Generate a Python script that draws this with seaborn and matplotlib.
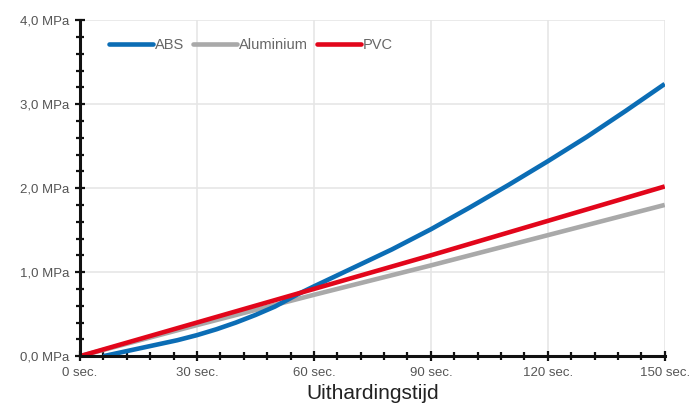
import pandas as pd
import matplotlib
matplotlib.use('Agg')
import matplotlib.pyplot as plt
import seaborn as sns
from matplotlib.ticker import MultipleLocator, FuncFormatter

# waarden (sec., MPa)
abs_tijd = [6, 10, 15, 20, 25, 30, 35, 40, 45, 50, 56, 60, 70, 80, 90, 100, 110, 120, 130, 140, 150]
abs_mpa = [0.0, 0.04, 0.09, 0.14, 0.19, 0.25, 0.32, 0.40, 0.49, 0.59, 0.74, 0.83, 1.05, 1.27, 1.51, 1.77, 2.04, 2.32, 2.61, 2.92, 3.24]

alu_tijd = [0, 30, 60, 90, 120, 150]
alu_mpa = [0.0, 0.37, 0.73, 1.08, 1.44, 1.80]

pvc_tijd = [0, 30, 60, 90, 120, 150]
pvc_mpa = [0.0, 0.40, 0.80, 1.20, 1.61, 2.02]

series = ['ABS', 'Aluminium', 'PVC']
kleuren = ['#0b6db5', '#a9a9a9', '#e2061b']

df = pd.concat([
    pd.DataFrame({'tijd': abs_tijd, 'mpa': abs_mpa, 'materiaal': 'ABS'}),
    pd.DataFrame({'tijd': alu_tijd, 'mpa': alu_mpa, 'materiaal': 'Aluminium'}),
    pd.DataFrame({'tijd': pvc_tijd, 'mpa': pvc_mpa, 'materiaal': 'PVC'}),
])

sns.set_style('white')
plt.rcParams['font.family'] = ['Liberation Sans', 'DejaVu Sans']

fig = plt.figure(figsize=(6.92, 4.19), dpi=100)
ax = fig.add_axes([0.1156, 0.150, 0.845, 0.802])

sns.lineplot(data=df, x='tijd', y='mpa', hue='materiaal', hue_order=series,
             palette=kleuren, linewidth=3.3, ax=ax, sort=True, estimator=None)
# rood boven grijs, zoals in het origineel
for line, z in zip(ax.lines, [4, 3, 5]):
    line.set_zorder(z)
    line.set_solid_capstyle('butt')
    line.set_solid_joinstyle('round')

ax.set_xlim(0, 150)
ax.set_ylim(0, 4.0)
ax.xaxis.set_major_locator(MultipleLocator(30))
ax.xaxis.set_minor_locator(MultipleLocator(6))
ax.yaxis.set_major_locator(MultipleLocator(1.0))
ax.yaxis.set_minor_locator(MultipleLocator(0.2))
ax.xaxis.set_major_formatter(FuncFormatter(lambda v, p: f'{int(v)} sec.'))
ax.yaxis.set_major_formatter(FuncFormatter(lambda v, p: f'{v:.1f}'.replace('.', ',') + ' MPa'))

ax.grid(True, which='major', color='#e6e6e6', linewidth=1.2, zorder=0)
ax.set_axisbelow(True)

for s in ['top', 'right']:
    ax.spines[s].set_visible(False)
for s in ['left', 'bottom']:
    ax.spines[s].set_color('#111111')
    ax.spines[s].set_linewidth(2.2)
    ax.spines[s].set_zorder(6)

ax.tick_params(which='both', bottom=True, left=True, direction='inout',
               color='#111111', width=1.6)
ax.tick_params(which='major', length=7, labelsize=9.5, labelcolor='#555555', pad=4)
ax.tick_params(which='minor', length=6)

ax.set_xlabel('Uithardingstijd', fontsize=15, color='#222222', labelpad=4)
ax.set_ylabel('')

leg = ax.legend(loc='upper left', bbox_to_anchor=(0.028, 0.985), ncol=3, frameon=False,
                handlelength=3.0, handletextpad=0.15, columnspacing=0.6,
                fontsize=10.5)
for t in leg.get_texts():
    t.set_color('#666666')

fig.savefig('out.png', dpi=100)
